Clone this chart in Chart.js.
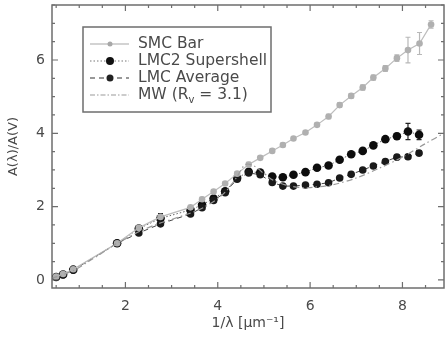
<!DOCTYPE html>
<html><head><meta charset="utf-8">
<script src="https://cdn.jsdelivr.net/npm/chart.js@4.4.1/dist/chart.umd.min.js"></script>
<style>html,body{margin:0;padding:0;background:#fff;}canvas{display:block;}</style>
</head><body>
<canvas id="c" width="445" height="338"></canvas>
<script>
// ---- data ----
const xTicks = [2, 4, 6, 8];
const yTicks = [0, 2, 4, 6];

const xSMC = [0.50,0.65,0.87,1.82,2.29,2.76,3.41,3.66,3.91,4.16,4.42,4.67,4.92,5.18,5.41,5.64,5.90,6.15,6.40,6.64,6.89,7.14,7.37,7.63,7.88,8.12,8.37,8.62];
const ySMC = [0.09,0.16,0.29,1.00,1.42,1.72,1.98,2.20,2.41,2.63,2.90,3.15,3.33,3.52,3.68,3.86,4.02,4.23,4.46,4.77,5.02,5.25,5.52,5.77,6.05,6.27,6.45,6.97];
const eSMC = [0.03,0.03,0.03,0.02,0.06,0.08,0.05,0.05,0.05,0.05,0.05,0.06,0.05,0.05,0.05,0.05,0.05,0.05,0.06,0.06,0.06,0.07,0.07,0.08,0.09,0.35,0.30,0.10];

const xLMC2 = [0.50,0.65,0.87,1.82,2.29,2.76,3.41,3.66,3.91,4.16,4.42,4.67,4.92,5.18,5.41,5.64,5.90,6.15,6.40,6.64,6.89,7.14,7.37,7.63,7.88,8.12,8.36];
const yLMC2 = [0.08,0.15,0.28,1.00,1.40,1.68,1.91,2.05,2.22,2.42,2.78,2.95,2.93,2.82,2.80,2.87,2.94,3.06,3.12,3.28,3.43,3.52,3.67,3.84,3.92,4.05,3.96];
const eLMC2 = [0.04,0.04,0.04,0.02,0.08,0.13,0.06,0.05,0.05,0.05,0.05,0.05,0.05,0.05,0.05,0.05,0.05,0.05,0.05,0.05,0.05,0.05,0.06,0.07,0.08,0.22,0.13];

const xLMCAvg = [0.50,0.65,0.87,1.82,2.29,2.76,3.41,3.66,3.91,4.16,4.42,4.67,4.92,5.18,5.41,5.64,5.90,6.15,6.40,6.64,6.89,7.14,7.37,7.63,7.88,8.12,8.36];
const yLMCAvg = [0.08,0.14,0.27,1.00,1.28,1.53,1.80,1.97,2.17,2.38,2.75,2.92,2.87,2.66,2.56,2.56,2.59,2.61,2.65,2.78,2.88,3.00,3.11,3.23,3.35,3.36,3.46];
const eLMCAvg = [0.03,0.03,0.03,0.02,0.04,0.05,0.04,0.04,0.04,0.04,0.04,0.04,0.04,0.04,0.04,0.04,0.04,0.04,0.04,0.04,0.04,0.04,0.04,0.05,0.05,0.06,0.07];

const xMW = [0.40,0.60,0.90,1.20,1.50,1.82,2.00,2.30,2.70,3.00,3.40,3.70,4.00,4.20,4.40,4.60,4.80,5.00,5.20,5.50,5.80,6.00,6.50,7.00,7.50,8.00,8.50,8.90];
const yMW = [0.05,0.12,0.27,0.50,0.74,1.00,1.12,1.32,1.53,1.65,1.82,1.98,2.22,2.45,2.78,3.15,3.10,2.90,2.72,2.58,2.52,2.52,2.60,2.78,3.05,3.35,3.72,4.00];

const seriesNames = ['SMC Bar', 'LMC2 Supershell', 'LMC Average', 'MW (R', 'v', ' = 3.1)'];

// ---- styles ----
const FONT = "'DejaVu Sans', sans-serif";
const TXT = '#4a4a4a';
const AXC = '#6e6e6e';
const pts = (xs, ys) => xs.map((x, i) => ({x: x, y: ys[i]}));
const zeroPad = s => { s.paddingLeft = 0; s.paddingRight = 0; s.paddingTop = 0; s.paddingBottom = 0; };

const errPlugin = {
  id: 'errbars',
  beforeDatasetsDraw(chart) {
    const ctx = chart.ctx, ys = chart.scales.y;
    chart.data.datasets.forEach((ds, di) => {
      if (!ds.errors) return;
      const meta = chart.getDatasetMeta(di);
      ctx.save();
      ctx.strokeStyle = ds.errColor; ctx.lineWidth = 1.2;
      meta.data.forEach((el, i) => {
        const e = ds.errors[i], v = ds.data[i].y;
        const y1 = ys.getPixelForValue(v - e), y2 = ys.getPixelForValue(v + e);
        ctx.beginPath(); ctx.moveTo(el.x, y1); ctx.lineTo(el.x, y2);
        ctx.moveTo(el.x - 2.5, y1); ctx.lineTo(el.x + 2.5, y1);
        ctx.moveTo(el.x - 2.5, y2); ctx.lineTo(el.x + 2.5, y2);
        ctx.stroke();
      });
      ctx.restore();
    });
  }
};

const framePlugin = {
  id: 'frame',
  afterDraw(chart) {
    const ctx = chart.ctx, a = chart.chartArea, xs = chart.scales.x, ys = chart.scales.y;
    ctx.save();
    ctx.strokeStyle = AXC; ctx.lineWidth = 1.5;
    ctx.strokeRect(a.left, a.top, a.right - a.left, a.bottom - a.top);
    ctx.lineWidth = 1.2;
    ctx.beginPath();
    for (let v = 0.5; v <= xs.max; v += 0.5) {
      if (v < xs.min) continue;
      const p = xs.getPixelForValue(v), L = (v % 2 === 0) ? 6 : 3;
      ctx.moveTo(p, a.bottom); ctx.lineTo(p, a.bottom - L);
      ctx.moveTo(p, a.top); ctx.lineTo(p, a.top + L);
    }
    for (let v = 0; v <= ys.max; v += 0.5) {
      const p = ys.getPixelForValue(v), L = (v % 2 === 0) ? 6 : 3;
      ctx.moveTo(a.left, p); ctx.lineTo(a.left + L, p);
      ctx.moveTo(a.right, p); ctx.lineTo(a.right - L, p);
    }
    ctx.stroke();

    // legend
    const bx = 83, by = 27, bw = 188, bh = 85;
    ctx.fillStyle = '#fff';
    ctx.fillRect(bx, by, bw, bh);
    ctx.strokeStyle = AXC; ctx.lineWidth = 1.5;
    ctx.strokeRect(bx, by, bw, bh);
    const rows = [44, 61, 78, 95];
    const x0 = 90, x1 = 129, xm = 110, tx = 138;
    const styles = [
      {c:'#a8a8a8', dash:[], r:2.5, pc:'#a8a8a8'},
      {c:'#777', dash:[1.5,2], r:4, pc:'#111'},
      {c:'#333', dash:[5,4], r:3.5, pc:'#222'},
      {c:'#999', dash:[5,2,1.5,2], r:0, pc:null}
    ];
    ctx.font = '15.5px ' + FONT; ctx.textBaseline = 'middle'; ctx.textAlign = 'left';
    rows.forEach((yy, i) => {
      const s = styles[i];
      ctx.strokeStyle = s.c; ctx.lineWidth = 1.2; ctx.setLineDash(s.dash);
      ctx.beginPath(); ctx.moveTo(x0, yy); ctx.lineTo(x1, yy); ctx.stroke();
      ctx.setLineDash([]);
      if (s.r > 0) { ctx.fillStyle = s.pc; ctx.beginPath(); ctx.arc(xm, yy, s.r, 0, 2*Math.PI); ctx.fill(); }
      ctx.fillStyle = TXT;
      if (i < 3) { ctx.fillText(seriesNames[i], tx, yy); }
      else {
        ctx.fillText(seriesNames[3], tx, yy);
        const w = ctx.measureText(seriesNames[3]).width;
        ctx.font = '10px ' + FONT;
        ctx.fillText(seriesNames[4], tx + w, yy + 5);
        const w2 = ctx.measureText(seriesNames[4]).width;
        ctx.font = '15.5px ' + FONT;
        ctx.fillText(seriesNames[5], tx + w + w2, yy);
      }
    });
    ctx.restore();
  }
};

new Chart(document.getElementById('c'), {
  type: 'scatter',
  data: {
    datasets: [
      {label:'MW', data: pts(xMW, yMW), showLine: true, borderColor:'#9a9a9a', borderWidth:1.2,
       borderDash:[6,3,1.5,3], pointRadius:0, tension:0.3},
      {label:'SMC Bar', data: pts(xSMC, ySMC), showLine: true, borderColor:'#bdbdbd', borderWidth:1.2,
       pointRadius:3.3, pointBackgroundColor:'#b0b0b0', pointBorderWidth:0, errors:eSMC, errColor:'#b8b8b8'},
      {label:'LMC Average', data: pts(xLMCAvg, yLMCAvg), showLine: true, borderColor:'#444', borderWidth:1,
       borderDash:[5,4], pointRadius:3.8, pointBackgroundColor:'#1a1a1a', pointBorderWidth:0, errors:eLMCAvg, errColor:'#333'},
      {label:'LMC2 Supershell', data: pts(xLMC2, yLMC2), showLine: true, borderColor:'#666', borderWidth:1,
       borderDash:[1.5,2], pointRadius:4.3, pointBackgroundColor:'#0d0d0d', pointBorderWidth:0, errors:eLMC2, errColor:'#222'}
    ]
  },
  options: {
    responsive: false, animation: false, events: [],
    layout: {autoPadding: false, padding: {top: 5, right: 1, left: 0, bottom: 0}},
    plugins: {legend: {display: false}, tooltip: {enabled: false}},
    scales: {
      x: {
        type: 'linear', min: 0.41, max: 8.9,
        afterBuildTicks: s => { s.ticks = xTicks.map(v => ({value: v})); },
        afterFit: s => { s.height = 50; zeroPad(s); },
        grid: {display: false, drawTicks: false},
        border: {display: false},
        ticks: {color: TXT, font: {family: FONT, size: 14}, padding: 10, maxRotation: 0},
        title: {display: true, text: '1/λ [μm⁻¹]', color: TXT, font: {family: FONT, size: 14}, padding: {top: 0, bottom: 6}}
      },
      y: {
        type: 'linear', min: -0.22, max: 7.5,
        afterBuildTicks: s => { s.ticks = yTicks.map(v => ({value: v})); },
        afterFit: s => { s.width = 52; zeroPad(s); },
        grid: {display: false, drawTicks: false},
        border: {display: false},
        ticks: {color: TXT, font: {family: FONT, size: 14}, padding: 7},
        title: {display: true, text: 'A(λ)/A(V)', color: TXT, font: {family: FONT, size: 13}, padding: {top: 6, bottom: 0}}
      }
    }
  },
  plugins: [errPlugin, framePlugin]
});
</script>
</body></html>
